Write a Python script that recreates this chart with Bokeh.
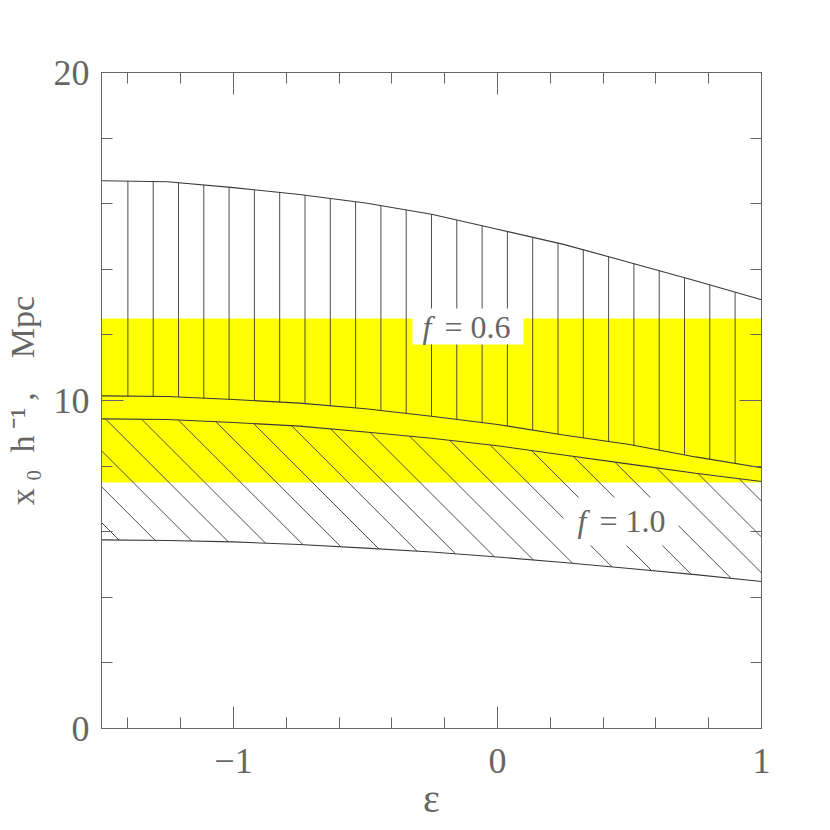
import numpy as np
from bokeh.plotting import figure
from bokeh.models import Range1d, LinearAxis, SingleIntervalTicker, Label, CustomJSTickFormatter
from bokeh.embed import file_html
from bokeh.resources import INLINE

# ---- data ----
eps = [-1.5, -1.25, -1.0, -0.75, -0.5, -0.25, 0.0, 0.25, 0.5, 0.75, 1.0]
f06_upper = [16.70, 16.67, 16.49, 16.28, 16.02, 15.68, 15.22, 14.76, 14.21, 13.65, 13.07]
f06_lower = [10.14, 10.12, 10.03, 9.92, 9.75, 9.52, 9.27, 8.95, 8.66, 8.28, 7.95]
f10_upper = [9.44, 9.42, 9.33, 9.22, 9.04, 8.85, 8.62, 8.34, 8.06, 7.78, 7.53]
f10_lower = [5.75, 5.73, 5.69, 5.61, 5.50, 5.38, 5.23, 5.06, 4.88, 4.69, 4.48]
band_low = 7.5
band_high = 12.5
x_major_labels = {-1: "\u22121", 0: "0", 1: "1"}
y_label = "x\u2009\u2080\u2002h\u2009\u207b\u00b9\u2009,\u2002\u2002Mpc"
x_label = "\u03b5"

# ---- styling ----
GRAY = "#666666"
LINE = "#3a3a3a"
FONT = "Liberation Serif"
XMIN, XMAX, YMIN, YMAX = -1.5, 1.0, 0.0, 20.0
FW, FH = 660, 656
BL, BR, BT, BB = 100, 40, 72, 92

p = figure(width=BL + FW + BR, height=BT + FH + BB,
           frame_width=FW, frame_height=FH,
           min_border_left=BL, min_border_right=BR,
           min_border_top=BT, min_border_bottom=BB,
           x_range=Range1d(XMIN, XMAX), y_range=Range1d(YMIN, YMAX),
           output_backend="svg", toolbar_location=None,
           x_axis_location=None, y_axis_location=None)
p.grid.visible = False
p.outline_line_color = GRAY
p.outline_line_width = 1
p.background_fill_color = "white"
p.border_fill_color = "white"

xt = SingleIntervalTicker(interval=1, num_minor_ticks=5)
yt = SingleIntervalTicker(interval=10, num_minor_ticks=5)

def style_axis(ax, show_labels):
    ax.axis_line_color = GRAY
    ax.major_tick_line_color = GRAY
    ax.minor_tick_line_color = GRAY
    ax.major_tick_in = 22
    ax.major_tick_out = 0
    ax.minor_tick_in = 11
    ax.minor_tick_out = 0
    ax.major_label_text_font = FONT
    ax.major_label_text_color = GRAY
    ax.major_label_text_font_size = "36px"
    if not show_labels:
        ax.formatter = CustomJSTickFormatter(code="return ''")
        ax.major_label_standoff = 0

xb = LinearAxis(ticker=xt, axis_label=x_label)
style_axis(xb, True)
xb.major_label_overrides = x_major_labels
xb.major_label_standoff = 20
xb.axis_label_text_font = FONT
xb.axis_label_text_font_size = "40px"
xb.axis_label_text_font_style = "normal"
xb.axis_label_text_color = GRAY
xb.axis_label_standoff = 0
p.add_layout(xb, "below")

xa = LinearAxis(ticker=xt)
style_axis(xa, False)
p.add_layout(xa, "above")

yl = LinearAxis(ticker=yt, axis_label=y_label)
style_axis(yl, True)
yl.major_label_standoff = 12
yl.axis_label_text_font = FONT
yl.axis_label_text_font_size = "34px"
yl.axis_label_text_font_style = "normal"
yl.axis_label_text_color = GRAY
yl.axis_label_standoff = 10
p.add_layout(yl, "left")

yr = LinearAxis(ticker=yt)
style_axis(yr, False)
p.add_layout(yr, "right")

# yellow band
p.varea(x=[eps[0], eps[-1]], y1=[band_low, band_low], y2=[band_high, band_high],
        fill_color="#ffff00", fill_alpha=1.0)

# vertical hatching of the f=0.6 region
vx = np.linspace(-1.4, 0.9, 25)
p.segment(x0=vx, y0=np.interp(vx, eps, f06_lower), x1=vx, y1=np.interp(vx, eps, f06_upper),
          line_color=LINE, line_width=0.9)

# diagonal hatching of the f=1.0 region (45 degrees on screen)
slope = -(FW / (XMAX - XMIN)) / (FH / (YMAX - YMIN))
uu = np.linspace(XMIN, XMAX, 6001)
lo = np.interp(uu, eps, f10_lower)
hi = np.interp(uu, eps, f10_upper)
x0s, y0s, x1s, y1s = [], [], [], []
for k in range(-3, 30):
    a = -5.793 + 1.0933 * k
    v = a + slope * uu
    m = (v >= lo) & (v <= hi)
    if m.sum() > 1:
        idx = np.where(m)[0]
        x0s.append(uu[idx[0]]); y0s.append(v[idx[0]])
        x1s.append(uu[idx[-1]]); y1s.append(v[idx[-1]])
p.segment(x0=x0s, y0=y0s, x1=x1s, y1=y1s, line_color=LINE, line_width=0.9)

# boundary curves
for ys in (f06_upper, f06_lower, f10_upper, f10_lower):
    p.line(eps, ys, line_color=LINE, line_width=1.1)

# labels: white box anchored at its left edge, italic f drawn inside the padding
def flabel(x, y, rest, pad, f_off):
    box = Label(x=x, y=y, text=rest, text_align="left", text_baseline="middle",
                text_font=FONT, text_font_size="32px", text_color=GRAY,
                background_fill_color="white", padding=pad)
    fl = Label(x=x, y=y, x_offset=f_off, text="f", text_align="left", text_baseline="middle",
               text_font=FONT, text_font_style="italic", text_font_size="32px",
               text_color=GRAY)
    p.add_layout(box)
    p.add_layout(fl)

flabel(-0.3220, 12.256, "= 0.6", dict(left=32, right=13, top=0, bottom=0), 10)
flabel(0.2500, 6.311, "= 1.0", dict(left=36, right=13, top=6, bottom=6), 14)

open("out.html", "w").write(file_html(p, INLINE))
